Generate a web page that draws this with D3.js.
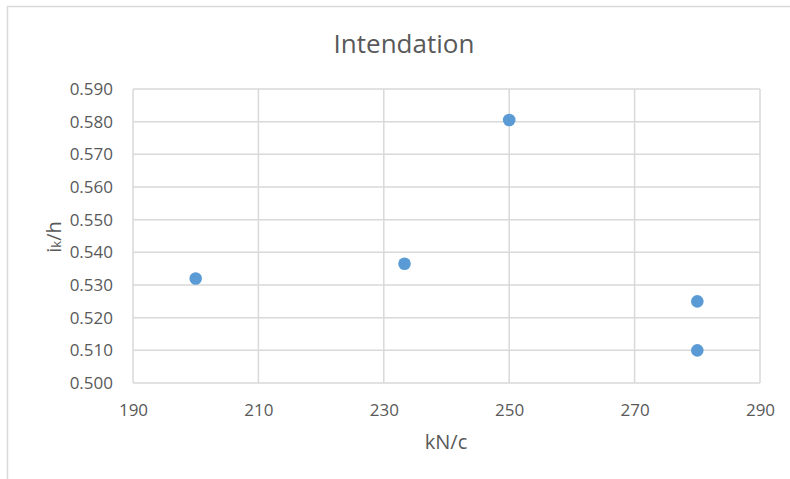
<!DOCTYPE html>
<html>
<head>
<meta charset="utf-8">
<script src="https://cdn.jsdelivr.net/npm/d3@7"></script>
<style>
  html, body { margin: 0; padding: 0; background: #fff; }
  svg { display: block; font-family: "Open Sans", "Liberation Sans", sans-serif; }
</style>
</head>
<body>
<svg id="chart" width="790" height="479"></svg>
<script>
// Indentation measurements: load (kN/c) against relative depth (ik/h)
const loadValues = [200, 233.3, 250, 280, 280];
const depthRatios = [0.532, 0.5365, 0.5805, 0.525, 0.510];
const xTicks = [190, 210, 230, 250, 270, 290];
const yTicks = [0.500, 0.510, 0.520, 0.530, 0.540, 0.550, 0.560, 0.570, 0.580, 0.590];

const svg = d3.select("#chart");
const plot = { left: 133, right: 760, top: 89, bottom: 383 };
const textColor = "#595959";

// Outer chart frame
svg.append("rect")
  .attr("x", 7.5).attr("y", 6.5)
  .attr("width", 820).attr("height", 520)
  .attr("fill", "#fff")
  .attr("stroke", "#d9d9d9").attr("stroke-width", 1.5);

const x = d3.scaleLinear().domain([190, 290]).range([plot.left, plot.right]);
const y = d3.scaleLinear().domain([0.500, 0.590]).range([plot.bottom, plot.top]);

// Gridlines
const grid = svg.append("g").attr("class", "grid");
grid.selectAll("line.h").data(yTicks).join("line")
  .attr("class", "h")
  .attr("x1", plot.left).attr("x2", plot.right)
  .attr("y1", d => y(d)).attr("y2", d => y(d))
  .attr("stroke", "#d9d9d9").attr("stroke-width", 1.5);
grid.selectAll("line.v").data(xTicks).join("line")
  .attr("class", "v")
  .attr("x1", d => x(d)).attr("x2", d => x(d))
  .attr("y1", plot.top).attr("y2", plot.bottom)
  .attr("stroke", "#d9d9d9").attr("stroke-width", 1.5);

// Axes (labels only; gridlines act as the frame)
const xAxis = svg.append("g")
  .attr("transform", `translate(0,${plot.bottom})`)
  .call(d3.axisBottom(x).tickValues(xTicks).tickSize(0).tickPadding(21).tickFormat(d3.format("d")));
const yAxis = svg.append("g")
  .attr("transform", `translate(${plot.left},0)`)
  .call(d3.axisLeft(y).tickValues(yTicks).tickSize(0).tickPadding(20).tickFormat(d3.format(".3f")));
[xAxis, yAxis].forEach(a => {
  a.select(".domain").remove();
  a.selectAll("text")
    .attr("fill", textColor)
    .style("font-size", "17px")
    .style("font-family", "\"Open Sans\", \"Liberation Sans\", sans-serif");
});

// Data points
svg.append("g").selectAll("circle")
  .data(loadValues.map((v, i) => [v, depthRatios[i]]))
  .join("circle")
  .attr("cx", d => x(d[0]))
  .attr("cy", d => y(d[1]))
  .attr("r", 6.3)
  .attr("fill", "#5b9bd5");

// Title
svg.append("text")
  .attr("x", 404).attr("y", 53)
  .attr("text-anchor", "middle")
  .attr("fill", textColor)
  .style("font-size", "26px")
  .text("Intendation");

// X axis title
svg.append("text")
  .attr("x", 446).attr("y", 449)
  .attr("text-anchor", "middle")
  .attr("fill", textColor)
  .style("font-size", "20px")
  .text("kN/c");

// Y axis title with subscript k
const yTitle = svg.append("text")
  .attr("transform", "translate(61,237) rotate(-90)")
  .attr("text-anchor", "middle")
  .attr("fill", textColor)
  .style("font-size", "20px");
yTitle.append("tspan").text("i");
yTitle.append("tspan").style("font-size", "13px").text("k");
yTitle.append("tspan").text("/h");
</script>
</body>
</html>
